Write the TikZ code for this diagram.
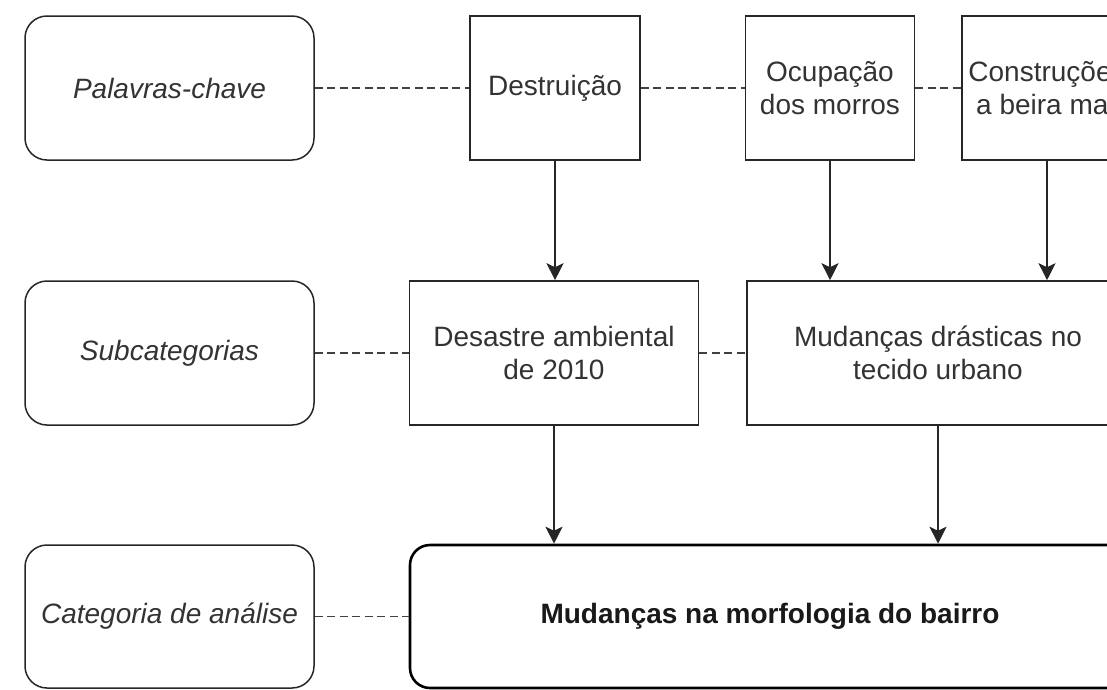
\documentclass[tikz,border=0pt]{standalone}
\usepackage{fontspec}
\setmainfont{Liberation Sans}
\usepackage{tikz}
\usetikzlibrary{arrows.meta}

\begin{document}
\begin{tikzpicture}
  [
    x=1pt, y=-1pt,
    rowhead/.style={
       draw=black!85,
       line width=1.5pt,
       rounded corners=22pt,
       minimum width=289pt,
       minimum height=144pt,
       inner sep=0pt,
       text=black!80,
       font=\fontsize{28}{33.6}\selectfont\itshape
    },
    term/.style={
       draw=black!85,
       line width=1.6pt,
       minimum height=144pt,
       inner sep=0pt,
       align=center,
       text=black!80,
       font=\fontsize{28}{33.6}\selectfont
    },
    cat/.style={
       draw=black,
       line width=2.6pt,
       rounded corners=20pt,
       minimum width=720pt,
       minimum height=143pt,
       inner sep=0pt,
       text=black!90,
       font=\fontsize{28}{33.6}\selectfont\bfseries
    },
    dl/.style={
       draw=black!75,
       line width=1.4pt,
       dash pattern=on 8pt off 4.5pt
    },
    ar/.style={
       draw=black!85,
       line width=1.6pt,
       -{Stealth[length=17pt, width=17pt, inset=4pt]}
    }
  ]
  \useasboundingbox (0,0) rectangle (1107,689);
  \clip (0,0) rectangle (1107,689);

  \node (rowKeywords) at ( 169.5,  88) [rowhead]                   {Palavras-chave};
  \node (rowSubcat)   at ( 169.5, 353) [rowhead]                   {Subcategorias};
  \node (rowCategory) at ( 169.5, 616.5) [rowhead, minimum height=143pt] {Categoria de análise};

  \node (kwDestr)     at ( 555,    88) [term, minimum width=170pt] {Destruição};
  \node (kwOcup)      at ( 830,    88) [term, minimum width=169pt] {Ocupação\\dos morros};
  \node (kwConstr)    at (1047,    88) [term, minimum width=170pt] {Construções\\a beira mar};

  \node (subDesastre) at ( 554,   353) [term, minimum width=289pt] {Desastre ambiental\\de 2010};
  \node (subTecido)   at ( 938,   353) [term, minimum width=382pt] {Mudanças drásticas no\\tecido urbano};

  \node (catBairro)   at ( 770, 616.5) [cat]                       {Mudanças na morfologia do bairro};

  \draw [dl] (rowKeywords) -- (kwDestr);
  \draw [dl] (kwDestr) -- (kwOcup);
  \draw [dl] (kwOcup) -- (kwConstr);
  \draw [dl] (rowSubcat) -- (subDesastre);
  \draw [dl] (subDesastre) -- (subTecido);
  \draw [dl] (rowCategory) -- (catBairro);

  \draw [ar] (kwDestr.south)     -- (kwDestr.south |- subDesastre.north);
  \draw [ar] (kwOcup.south)      -- (kwOcup.south |- subTecido.north);
  \draw [ar] (kwConstr.south)    -- (kwConstr.south |- subTecido.north);
  \draw [ar] (subDesastre.south) -- (subDesastre.south |- catBairro.north);
  \draw [ar] (subTecido.south)   -- (subTecido.south |- catBairro.north);
\end{tikzpicture}
\end{document}
